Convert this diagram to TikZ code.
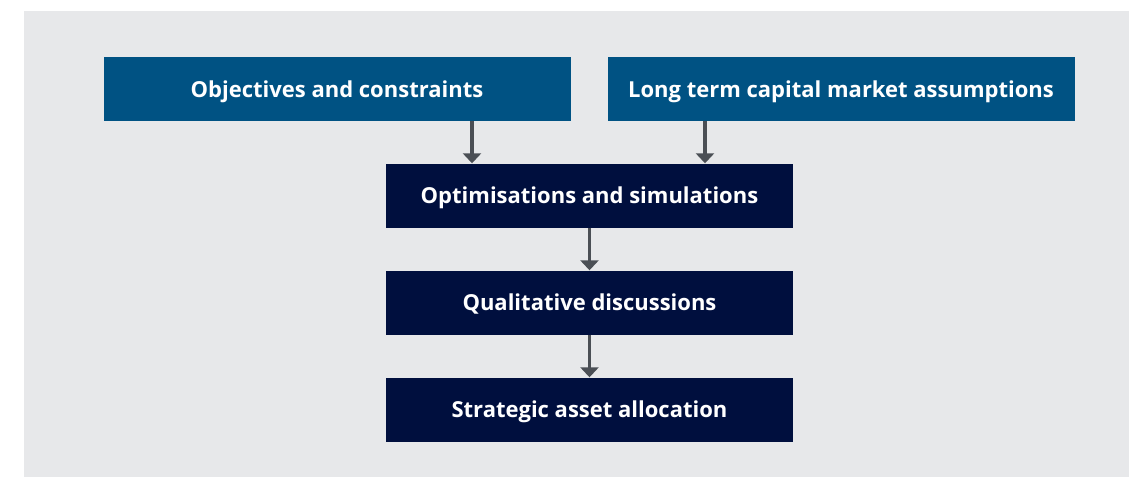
\documentclass[tikz,border=0pt]{standalone}
\usepackage{fontspec}
\setmainfont{Open Sans}
\usetikzlibrary{arrows.meta}
\definecolor{panel}{HTML}{E7E8EA}
\definecolor{inputblue}{HTML}{005283}
\definecolor{stepnavy}{HTML}{000F3E}
\definecolor{flowgrey}{HTML}{4B4F55}
\begin{document}
\begin{tikzpicture}[x=1pt,y=-1pt,
  boxbase/.style={draw=none,minimum height=64pt,inner sep=0pt,
    text height=16pt,text depth=0pt,
    text=white,font=\fontsize{22}{25}\selectfont\bfseries},
  inbox/.style={boxbase,fill=inputblue,minimum width=467pt},
  stepbox/.style={boxbase,fill=stepnavy,minimum width=407pt},
  flow/.style={draw=flowgrey,line width=3.5pt,
    -{Triangle[width=18pt,length=10pt]}}]
  \useasboundingbox (0,0) rectangle (1129,477);
  \fill[white] (0,0) rectangle (1129,477);
  \fill[panel] (24,11) rectangle (1129,477);
  \node[inbox] (obj) at (337,89) {Objectives and constraints};
  \node[inbox] (cma) at (841,89) {Long term capital market assumptions};
  \node[stepbox] (opt) at (589.5,195.5) {Optimisations and simulations};
  \node[stepbox] (qual) at (589.5,302.5) {Qualitative discussions};
  \node[stepbox] (saa) at (589.5,409.5) {Strategic asset allocation};
  \draw[flow] (obj.south -| 472,0) -- (opt.north -| 472,0);
  \draw[flow] (cma.south -| 705,0) -- (opt.north -| 705,0);
  \draw[flow] (opt) -- (qual);
  \draw[flow] (qual) -- (saa);
\end{tikzpicture}
\end{document}
